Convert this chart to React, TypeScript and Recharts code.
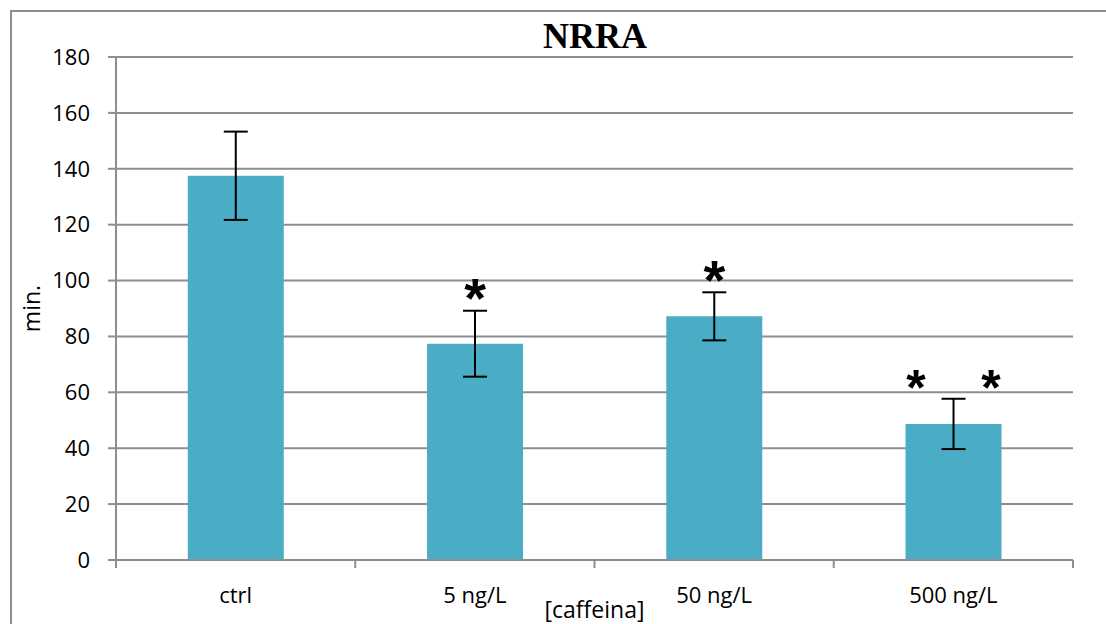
import React from 'react'
import {
  ComposedChart,
  Bar,
  ErrorBar,
  XAxis,
  YAxis,
  CartesianGrid,
  LabelList,
} from 'recharts'

// NRRA time by caffeine concentration
const categories = ['ctrl', '5 ng/L', '50 ng/L', '500 ng/L']
const means = [137.5, 77.4, 87.2, 48.7]
const errors = [15.8, 11.8, 8.6, 9.0]
const stars = [0, 1, 1, 2] // significance marks per bar
const yTicks = [0, 20, 40, 60, 80, 100, 120, 140, 160, 180]

const data = categories.map((name, i) => ({
  name,
  value: means[i],
  err: errors[i],
}))

const GRID = '#8e8e8e'
const BAR = '#4bacc6'
const SANS = '"Open Sans", Calibri, sans-serif'
const X_MARGIN = 27

function StarLabel(props: any) {
  const { x, y, width, height, value, index } = props
  const n = stars[index]
  if (!n) return null
  const pxPerUnit = height / value
  const errTop = y - errors[index] * pxPerUnit
  const cx = x + width / 2
  const cy = errTop - (n > 1 ? 22 : 25)
  const xs = n > 1 ? [cx - width * 0.39, cx + width * 0.39] : [cx]
  const fs = n > 1 ? 50 : 56
  return (
    <g>
      {xs.map((sx, k) => (
        <text
          key={k}
          x={sx}
          y={cy + fs * 0.56}
          textAnchor="middle"
          fontFamily="'Liberation Sans', Arial, sans-serif"
          fontWeight="bold"
          fontSize={fs}
          fill="#000"
        >
          *
        </text>
      ))}
    </g>
  )
}

// category label plus tick marks on the category boundaries
function CategoryTick(props: any) {
  const { x, y, payload, index } = props
  const half = payload.offset || 0
  const axisY = y - X_MARGIN
  const last = index === categories.length - 1
  return (
    <g>
      <line x1={x - half} x2={x - half} y1={axisY} y2={axisY + 8} stroke={GRID} strokeWidth={2} />
      {last && (
        <line x1={x + half} x2={x + half} y1={axisY} y2={axisY + 8} stroke={GRID} strokeWidth={2} />
      )}
      <text x={x} y={y} dy="0.71em" textAnchor="middle" fontFamily={SANS} fontSize={22} fill="#000">
        {payload.value}
      </text>
    </g>
  )
}

export default function App() {
  return (
    <div style={{ position: 'absolute', left: 0, top: 0, width: 1106, height: 624, overflow: 'hidden', background: '#fff' }}>
      <div
        style={{
          position: 'absolute',
          left: 10,
          top: 10,
          width: 1200,
          height: 700,
          border: '2px solid #8e8e8e',
        }}
      />
      <div
        style={{
          position: 'absolute',
          left: 0,
          width: 1190,
          top: 14,
          textAlign: 'center',
          fontFamily: '"Liberation Serif", "Times New Roman", serif',
          fontWeight: 'bold',
          fontSize: 36,
          lineHeight: '44px',
        }}
      >
        NRRA
      </div>
      <div style={{ position: 'absolute', left: 0, top: 0 }}>
        <ComposedChart
          width={1106}
          height={624}
          data={data}
          margin={{ top: 57, right: 33, bottom: 0, left: 0 }}
          barCategoryGap="30%"
        >
          <CartesianGrid vertical={false} stroke={GRID} strokeWidth={2} />
          <XAxis
            dataKey="name"
            height={64}
            interval={0}
            axisLine={{ stroke: GRID, strokeWidth: 2 }}
            tickLine={false}
            tickSize={0}
            tickMargin={X_MARGIN}
            tick={<CategoryTick />}
            label={{
              content: ({ viewBox }: any) => (
                <text
                  x={viewBox.x + viewBox.width / 2}
                  y={viewBox.y + 58}
                  textAnchor="middle"
                  fontFamily={SANS}
                  fontSize={23}
                  fill="#000"
                >
                  [caffeina]
                </text>
              ),
            }}
          />
          <YAxis
            width={116}
            domain={[0, 180]}
            ticks={yTicks}
            interval={0}
            axisLine={{ stroke: GRID, strokeWidth: 2 }}
            tickLine={{ stroke: GRID, strokeWidth: 2 }}
            tickSize={8}
            tickMargin={18}
            tick={{ fontFamily: SANS, fontSize: 22, fill: '#000' }}
            label={{
              content: ({ viewBox }: any) => {
                const lx = 40
                const ly = viewBox.y + viewBox.height / 2
                return (
                  <text
                    x={lx}
                    y={ly}
                    transform={`rotate(-90 ${lx} ${ly})`}
                    textAnchor="middle"
                    fontFamily={SANS}
                    fontSize={23}
                    fill="#000"
                  >
                    min.
                  </text>
                )
              },
            }}
          />
          <Bar dataKey="value" fill={BAR} isAnimationActive={false}>
            <ErrorBar dataKey="err" width={12} stroke="#000" strokeWidth={2} />
            <LabelList dataKey="value" content={StarLabel} />
          </Bar>
        </ComposedChart>
      </div>
    </div>
  )
}
